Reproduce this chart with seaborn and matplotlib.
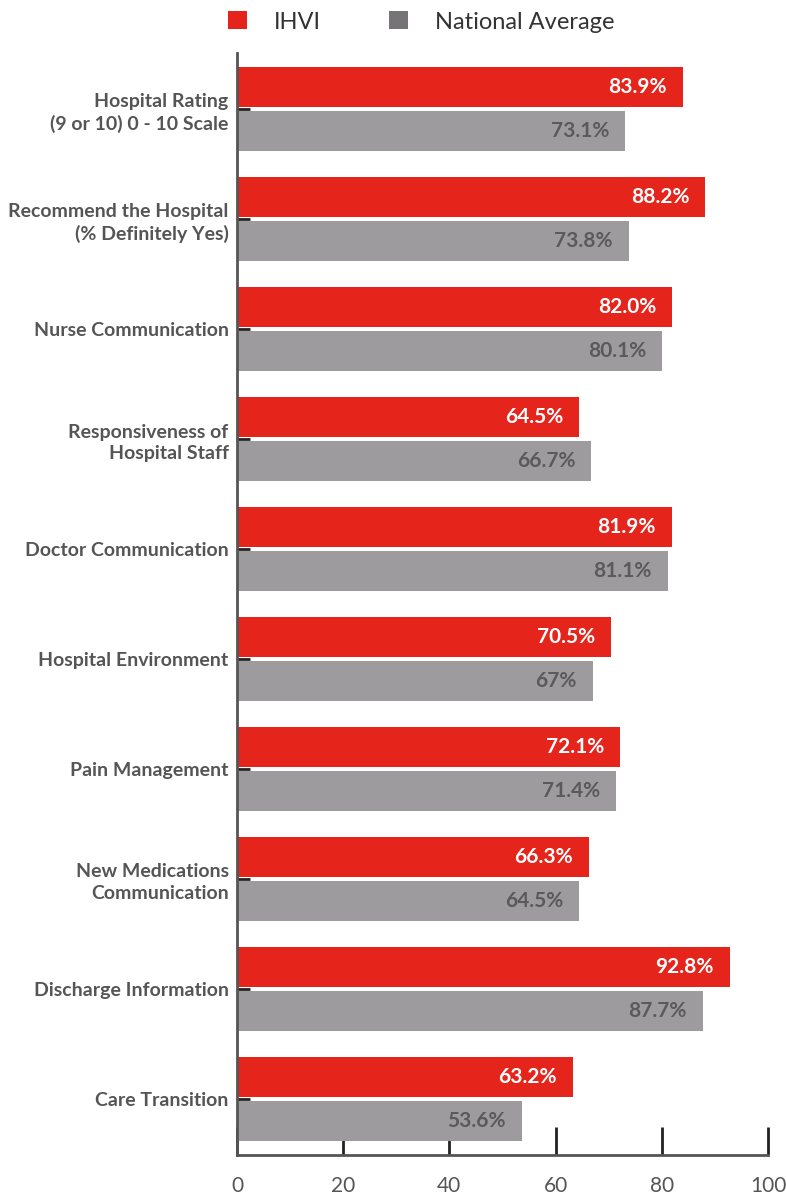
import matplotlib
matplotlib.use("Agg")
import matplotlib.pyplot as plt
from matplotlib.patches import Patch
import seaborn as sns
import pandas as pd

categories = [
    "Hospital Rating\n(9 or 10) 0 - 10 Scale",
    "Recommend the Hospital\n(% Definitely Yes)",
    "Nurse Communication",
    "Responsiveness of\nHospital Staff",
    "Doctor Communication",
    "Hospital Environment",
    "Pain Management",
    "New Medications\nCommunication",
    "Discharge Information",
    "Care Transition",
]
ihvi = [83.9, 88.2, 82.0, 64.5, 81.9, 70.5, 72.1, 66.3, 92.8, 63.2]
national = [73.1, 73.8, 80.1, 66.7, 81.1, 67.0, 71.4, 64.5, 87.7, 53.6]
ihvi_labels = ["83.9%", "88.2%", "82.0%", "64.5%", "81.9%", "70.5%", "72.1%", "66.3%", "92.8%", "63.2%"]
national_labels = ["73.1%", "73.8%", "80.1%", "66.7%", "81.1%", "67%", "71.4%", "64.5%", "87.7%", "53.6%"]
series_names = ["IHVI", "National Average"]
x_ticks = [0, 20, 40, 60, 80, 100]

RED = "#E5241B"
GRAY = "#9D9B9E"
GRAY_LEG = "#767477"
TXT = "#555555"

df = pd.DataFrame({
    "category": categories * 2,
    "value": ihvi + national,
    "series": [series_names[0]] * len(categories) + [series_names[1]] * len(categories),
})

sns.set_theme(style="white")
plt.rcParams["font.family"] = ["Lato", "DejaVu Sans"]

fig = plt.figure(figsize=(7.86, 11.96), dpi=100)
ax = fig.add_axes([237 / 786, 1 - 1155 / 1196, (768 - 237) / 786, (1155 - 53) / 1196])

sns.barplot(data=df, y="category", x="value", hue="series", orient="h",
            palette=[RED, GRAY], width=0.8, gap=0.1, legend=False, ax=ax,
            saturation=1, linewidth=0)

ax.set_xlim(0, 100)
ax.set_ylim(len(categories) - 0.49, -0.51)
ax.set_xticks(x_ticks)
ax.set_xlabel("")
ax.set_ylabel("")

for s in ["top", "right"]:
    ax.spines[s].set_visible(False)
for s in ["left", "bottom"]:
    ax.spines[s].set_color(TXT)
    ax.spines[s].set_linewidth(2.0)
    ax.spines[s].set_zorder(5)

ax.xaxis.set_zorder(0.5)
ax.yaxis.set_zorder(3)
ax.tick_params(axis="x", direction="in", length=20, width=2.0, color="#222222",
               labelsize=15, labelcolor=TXT, pad=15, bottom=True)
ax.tick_params(axis="y", direction="in", length=9.5, width=2.0, color="#222222",
               labelsize=14, labelcolor=TXT, pad=6, left=True)
for lab in ax.get_yticklabels():
    lab.set_fontweight("bold")
    lab.set_linespacing(1.3)

bars = ax.patches
n = len(categories)
labels_all = ihvi_labels + national_labels
for i, bar in enumerate(bars[: 2 * n]):
    color = "white" if i < n else "#5a5a5a"
    ax.annotate(labels_all[i], xy=(bar.get_x() + bar.get_width(), bar.get_y() + bar.get_height() / 2),
                xytext=(-16, 0), textcoords="offset pixels", ha="right", va="center",
                fontsize=15, fontweight="bold", color=color, zorder=6)

handles = [Patch(facecolor=RED, edgecolor="none"), Patch(facecolor=GRAY_LEG, edgecolor="none")]
leg = fig.legend(handles, series_names, loc="center", bbox_to_anchor=(0.536, 1 - 22 / 1196),
                 ncol=2, frameon=False, fontsize=17, handlelength=0.8, handleheight=0.8,
                 handletextpad=1.15, columnspacing=2.9)
for t in leg.get_texts():
    t.set_color("#333333")

fig.savefig("out.png", dpi=100)
